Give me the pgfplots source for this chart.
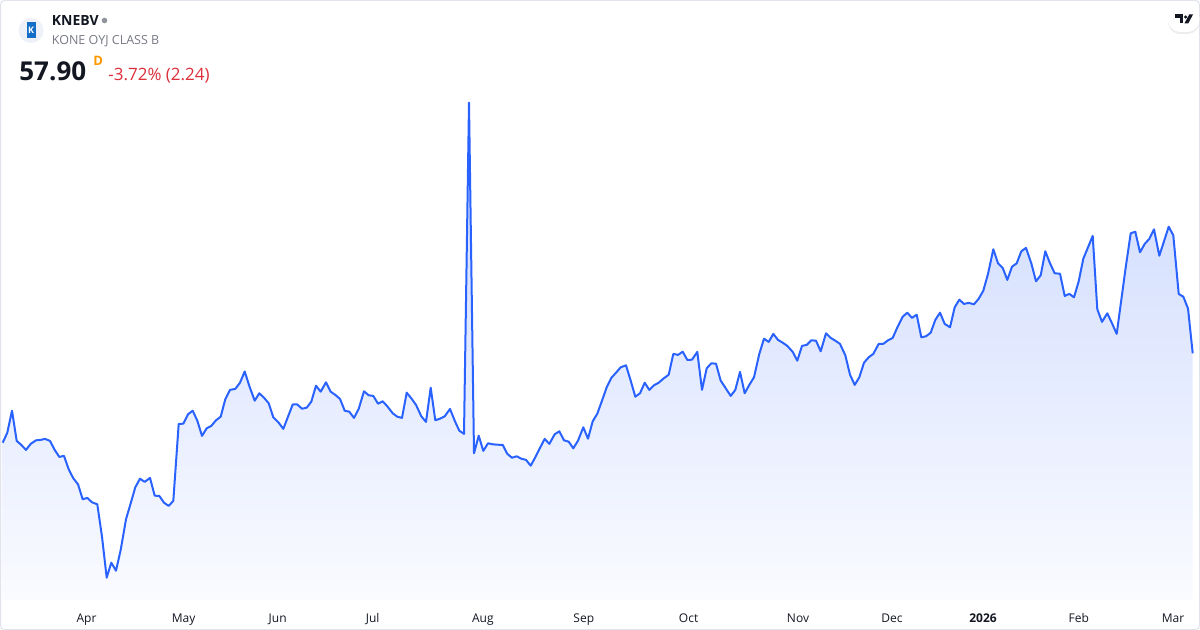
\documentclass[border=0pt]{standalone}
\usepackage{pgfplots}
\pgfplotsset{compat=1.18}
\usepackage{pgfplotstable}
\usepackage{fontspec}
\setmainfont{Open Sans}
\usetikzlibrary{shadows}
\definecolor{tvblue}{RGB}{41,98,255}
\definecolor{fillTop}{RGB}{203,216,254}
\definecolor{fillBot}{RGB}{250,251,255}
\definecolor{tvdark}{RGB}{19,23,34}
\definecolor{tvgray}{RGB}{120,123,134}
\definecolor{tvborder}{RGB}{224,227,235}
\definecolor{tvred}{RGB}{221,47,58}
\definecolor{tvorange}{RGB}{255,152,0}
\definecolor{konebl}{RGB}{20,110,200}
\definecolor{logobg}{RGB}{238,241,248}

% x: horizontal position (px), y: price
\pgfplotstableread{
x y
2.7 53.43
7.3 53.93
12 55.03
16.7 53.52
21.3 53.32
26 53.07
30.7 53.37
36 53.55
40.7 53.57
45 53.62
50 53.52
54.7 53.07
59.3 52.72
64 52.77
68.7 52.10
73.3 51.65
78 51.35
82.7 50.60
87.3 50.67
92 50.45
97.3 50.35
102 48.73
106.7 46.68
111.3 47.43
116 47.03
120.7 48.07
126 49.60
130.7 50.40
135.3 51.20
140 51.63
144.7 51.47
150 51.67
154.7 50.78
159.3 50.77
164 50.43
168.7 50.27
173.3 50.52
178.7 54.37
183.3 54.38
188 54.85
192.7 55.03
197.3 54.53
202 53.77
206.7 54.15
211.3 54.27
216 54.55
220.7 54.73
225.3 55.60
230 56.07
235.3 56.12
240 56.43
244.7 56.99
249.3 56.27
254.7 55.53
259.3 55.90
264 55.68
268.7 55.40
273.3 54.70
278.7 54.43
283.3 54.12
288 54.73
292.7 55.34
297.3 55.34
302 55.13
306.7 55.18
311.3 55.48
316 56.28
320.7 55.98
326 56.45
330.7 55.98
335.3 55.82
340 55.62
344.7 55.03
349.3 54.98
354 54.67
358.7 55.12
364 56.00
368.7 55.80
373.3 55.77
378 55.38
382.7 55.50
387.3 55.25
392.7 54.90
397.3 54.73
402 54.67
406.7 55.93
411.3 55.65
416 55.32
421.3 54.75
426 54.47
430.7 56.18
435.3 54.55
440 54.63
444.7 54.75
450 55.12
454.7 54.53
459.3 54.03
464 53.87
469 70.43
474 52.90
478.7 53.78
483.3 53.02
488 53.40
492.7 53.35
497.3 53.33
502.7 53.32
507.3 52.87
512 52.68
516.7 52.75
521.3 52.63
526 52.57
530.7 52.28
535.3 52.70
540 53.17
544.7 53.62
549.3 53.37
554.7 53.85
559.3 54.00
564 53.55
568.7 53.48
573.3 53.15
578 53.53
583.3 54.20
588 53.63
592.7 54.50
597.3 54.88
602 55.53
606.7 56.20
611.3 56.67
616 56.93
620.7 57.20
626 57.30
630.7 56.53
635.3 55.73
640 55.90
644.7 56.43
649.3 56.07
654 56.30
658.7 56.43
663.3 56.63
668.7 56.83
673.3 57.87
678 57.82
682.7 57.98
687.3 57.57
692 57.58
697.3 57.97
702 56.07
706.7 57.15
711.3 57.40
716 57.38
720.7 56.53
726 56.13
730.7 55.77
735.3 56.07
740 56.97
744.7 55.90
749.3 56.32
754 56.70
759.3 57.87
764 58.63
768.7 58.47
773.3 58.87
778 58.57
782.7 58.43
787.3 58.27
792.7 57.97
797.3 57.53
802 58.27
806.7 58.32
811.3 58.55
816 58.53
820.7 58.00
826 58.90
830.7 58.67
835.3 58.53
840 58.37
845.3 57.80
850 56.83
854.7 56.32
859.3 56.70
864 57.43
868.7 57.70
873.3 57.87
878.7 58.37
883.3 58.37
888 58.55
892.7 58.67
897.3 59.19
902.7 59.73
907.3 59.93
912 59.67
916.7 59.83
921.3 58.70
926 58.75
930.7 58.93
935.3 59.57
940 59.93
944.7 59.37
950 59.20
954.7 60.20
959.3 60.58
964 60.37
968.7 60.42
974 60.35
978.7 60.63
983.3 61.03
988 61.87
993.3 63.10
998 62.40
1002.7 62.17
1007.3 61.57
1012 62.23
1016.7 62.40
1021.3 63.00
1026 63.17
1031.3 62.40
1036 61.50
1040.7 61.80
1045.3 63.00
1050 62.40
1054.7 61.90
1060 61.88
1064.7 60.77
1069.3 60.87
1074 60.70
1078.7 61.50
1083.3 62.63
1088 63.20
1092.7 63.77
1097.3 60.10
1102 59.47
1107.3 59.90
1112 59.40
1116.7 58.87
1121.3 60.57
1126 62.30
1130.7 63.90
1135.3 63.98
1140 62.95
1144.7 63.37
1149.3 63.62
1154 64.10
1159.3 62.78
1164 63.50
1168.7 64.23
1173.3 63.80
1178.7 60.87
1183.3 60.73
1188 60.14
1192.7 57.90
}\kone

\begin{document}
\begin{tikzpicture}
\begin{scope}[x=0.5pt,y=-0.5pt]
\fill[white] (0,0) rectangle (1200,630);
\end{scope}
\begin{axis}[
  at={(0,0)}, anchor=north west,
  scale only axis, width=600pt, height=315pt,
  xmin=0, xmax=1200, ymin=44.065, ymax=75.565,
  axis line style={draw=none},
  tick style={draw=none},
  ytick=\empty,
  xtick={86.5,183.6,277.7,372.6,482.8,583.8,688.6,798,892,983,1078.8,1173},
  xticklabels={Apr,May,Jun,Jul,Aug,Sep,Oct,Nov,Dec,\textbf{2026},Feb,Mar},
  xticklabel style={anchor=base, yshift=4pt, inner sep=0pt, font=\fontsize{6}{7}\selectfont, text=tvdark},
  clip=false,
]
\addplot[draw=none, top color=fillTop, bottom color=fillBot, forget plot]
  table[x=x,y=y]{\kone} -- (axis cs:1192.7,45.565) -- (axis cs:2.7,45.565) -- cycle;
\addplot[color=tvblue, line width=1pt, line join=round, mark=none]
  table[x=x,y=y]{\kone};
\end{axis}
\begin{scope}[x=0.5pt,y=-0.5pt]
% border
\draw[tvborder, line width=0.5pt, rounded corners=2pt] (0.5,0.5) rectangle (1199.5,629.5);
% logo
\fill[logobg] (31,30.5) circle (12.5);
\fill[konebl] (26.5,22) rectangle (35.5,38);
\node[text=white, font=\fontsize{4.5}{5}\selectfont\bfseries, inner sep=0pt] at (31,30.3) {K};
% header texts
\node[anchor=base west, inner sep=0pt, text=tvdark, font=\fontsize{7}{8}\selectfont\bfseries] at (51.5,26) {KNEBV};
\fill[tvgray!80] (104.5,20.5) circle (2.8);
\node[anchor=base west, inner sep=0pt, text=tvgray, font=\fontsize{6.25}{7}\selectfont] at (51.5,45) {KONE OYJ CLASS B};
\node[anchor=base west, inner sep=0pt, text=tvdark, font=\fontsize{13}{15}\selectfont\bfseries] at (19,81) {57.90};
\node[anchor=base west, inner sep=0pt, text=tvorange, font=\fontsize{6.5}{7}\selectfont\bfseries] at (93,66) {D};
\node[anchor=base west, inner sep=0pt, text=tvred, font=\fontsize{8.5}{10}\selectfont] at (108,80.5) {-3.72\% (2.24)};
% TradingView badge
\fill[white, drop shadow={opacity=0.15, shadow xshift=0pt, shadow yshift=-1pt}, rounded corners=6pt] (1199.5,7) -- (1168,7) -- (1168,32) -- (1199.5,32) -- cycle;
\fill[tvdark] (1175,14.5) rectangle (1183.2,18.2);
\fill[tvdark] (1179.6,14.5) rectangle (1183.2,23.5);
\fill[tvdark] (1185.6,17) circle (1.7);
\fill[tvdark] (1189.2,14.5) -- (1193,14.5) -- (1188.2,23.5) -- (1184.4,23.5) -- cycle;
\end{scope}
\end{tikzpicture}
\end{document}
